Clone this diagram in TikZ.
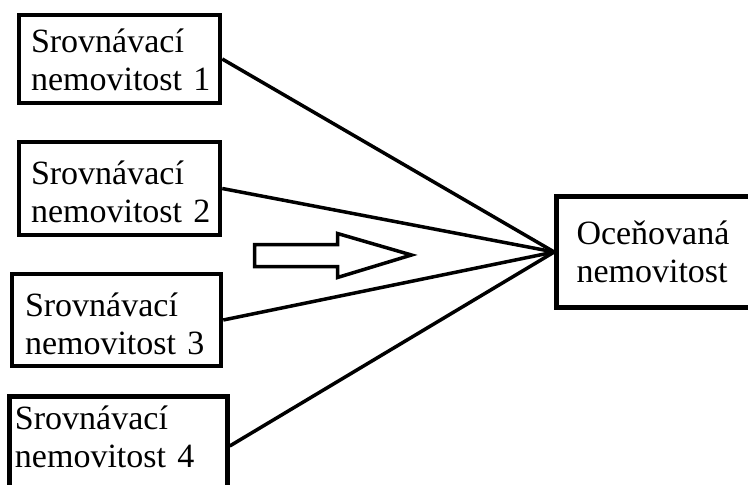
\documentclass[tikz,border=0pt]{standalone}
\usepackage{fontspec}
\setmainfont{Liberation Serif}
\usetikzlibrary{positioning}

\begin{document}
\begin{tikzpicture}[x=1pt, y=-1pt,
	srovbox/.style={draw, line width=4.5pt, align=left, inner ysep=0pt,
		font=\fontsize{34}{38.5}\selectfont},
	spoj/.style={line width=3.5pt}]
			%%%%% START %%%%%
			
			\useasboundingbox (0,0) rectangle (748,485);
			
			\node[srovbox, text width=177pt, inner xsep=12pt, minimum height=88pt, text depth=37pt] (s1) at (119.5, 59) {Srovnávací\\nemovitost~1};
			\node[srovbox, text width=177pt, inner xsep=12pt, minimum height=93pt, text depth=32pt] (s2) at (119.5, 188.5) {Srovnávací\\nemovitost~2};
			\node[srovbox, text width=183pt, inner xsep=13pt, minimum height=92pt, text depth=31pt] (s3) at (116.5, 320) {Srovnávací\\nemovitost~3};
			\node[srovbox, text width=207pt, inner xsep=5.5pt, minimum height=99pt, text depth=57pt] (s4) at (118.5, 446) {Srovnávací\\nemovitost~4};
			
			\node[srovbox, text width=160pt, inner xsep=20pt, minimum height=111pt] (t) at (656.5, 252) {Oceňovaná\\nemovitost};
			
			\draw[spoj] (s1.east) -- (t.west);
			\draw[spoj] (s2.east) -- (t.west);
			\draw[spoj] (s3.east) -- (t.west);
			\draw[spoj] (s4.east) -- (t.west);
			
			% prazdna sipka
			\draw[spoj] (254.5, 244.5) -- (337.5, 244.5) -- (337.5, 233.5) -- (411.5, 255) -- (337.5, 277.5) -- (337.5, 266.5) -- (254.5, 266.5) -- cycle;
			
			%%%%% END %%%%%
\end{tikzpicture}
\end{document}
